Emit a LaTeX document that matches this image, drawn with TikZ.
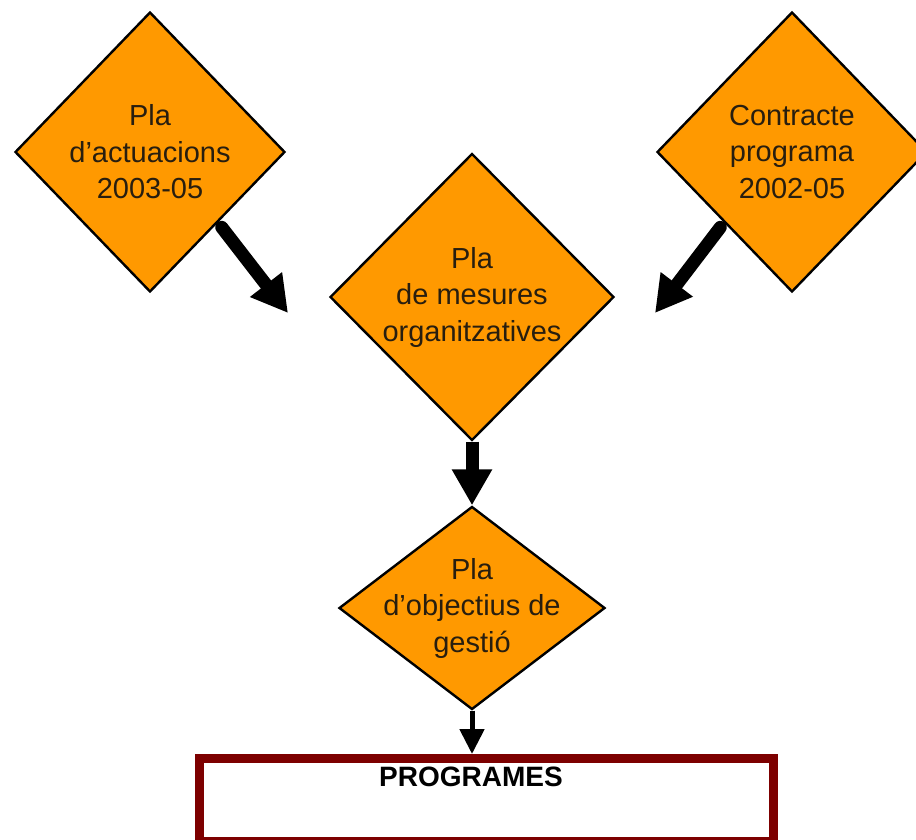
\documentclass[tikz,border=0pt]{standalone}
\usepackage{fontspec}
\setmainfont{Liberation Sans}
\usetikzlibrary{shapes.geometric,arrows.meta}

\definecolor{taronja}{RGB}{255,153,0}
\definecolor{granat}{RGB}{125,0,0}
\definecolor{lletra}{RGB}{40,30,15}

\tikzset{
  rombe/.style={diamond, draw=black, line width=2.4pt, fill=taronja, inner sep=0pt},
  rotul/.style={align=center, text=lletra, font=\fontsize{29}{36.5}\selectfont},
  fletxa/.style={line width=13pt, -{Triangle[width=38pt,length=36pt]}},
  caixa/.style={draw=granat, line width=9pt, fill=white, inner sep=0pt},
}

\begin{document}
\begin{tikzpicture}[x=1pt,y=-1pt]
        \useasboundingbox (0,0) rectangle (916,839);

        % rombes
        \node[rombe, minimum width=270pt, minimum height=280pt] (actuacions) at (150,152) {};
        \node[rombe, minimum width=270pt, minimum height=280pt] (contracte)  at (792,152) {};
        \node[rombe, minimum width=284pt, minimum height=287pt] (mesures)    at (472,297) {};
        \node[rombe, minimum width=266pt, minimum height=203pt] (objectius)  at (472,608) {};

        \node[rotul] (actuacionsText) at (actuacions) {Pla\\d'actuacions\\2003-05};
        \node[rotul] (contracteText)  at (contracte)  {Contracte\\programa\\2002-05};
        \node[rotul] (mesuresText)    at (mesures)    {Pla\\de mesures\\organitzatives};
        \node[rotul] (objectiusText)  at (objectius)  {Pla\\d'objectius de\\gestió};

        % caixa final
        \node[caixa, minimum width=574pt, minimum height=83pt] (programes) at (486.5,800) {};
        \node[rotul, text=black, font=\fontsize{28}{32}\selectfont\bfseries] (programesText) at (471,777) {PROGRAMES};

        % fletxes
        \coordinate (entradaE) at (288,313);
        \coordinate (entradaD) at (655,313);
        \draw[fletxa, line cap=round, shorten <=6pt] (actuacions.south east) -- (entradaE);
        \draw[fletxa, line cap=round, shorten <=6pt] (contracte.south west)  -- (entradaD);
        \draw[fletxa] (mesures.south) -- (objectius.north);
        \draw[line width=5pt, -{Triangle[width=24pt,length=25pt]}] (objectius.south) -- (objectius.south |- programes.north);
\end{tikzpicture}
\end{document}
